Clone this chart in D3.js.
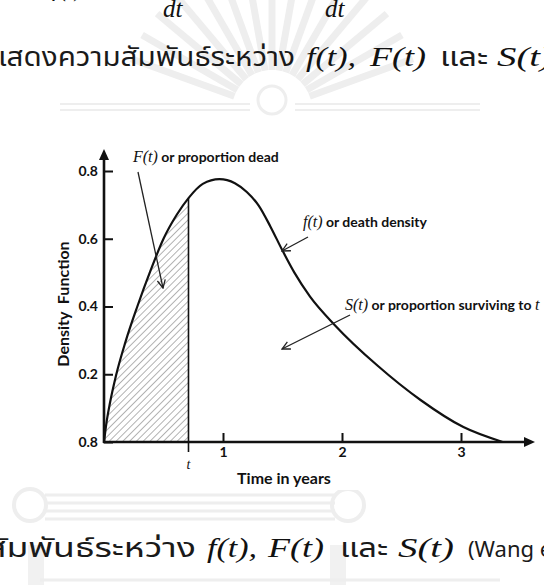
<!DOCTYPE html>
<html>
<head>
<meta charset="utf-8">
<script src="https://cdn.jsdelivr.net/npm/d3@7"></script>
<style>
  body { margin: 0; background: #fff; }
  svg { display: block; }
  .thai { font-family: "Noto Sans Thai", "Leelawadee UI", Tahoma, "Noto Sans", sans-serif; fill: #1a1a1a; }
  .math { font-family: "Liberation Serif", "DejaVu Serif", serif; font-style: italic; fill: #111; }
  .lbl { font-family: Lato, "Open Sans", sans-serif; font-weight: bold; fill: #111; }
</style>
</head>
<body>
<div id="chart"></div>
<script>
// ค่าที่อ่านจากรูป: เวลา (ปี) และความหนาแน่น f(t)
const tYears  = [0, 0.02, 0.05, 0.10, 0.18, 0.28, 0.39, 0.50, 0.61, 0.71, 0.83, 0.97, 1.10, 1.20, 1.30, 1.40, 1.50, 1.60, 1.73, 1.94, 2.30, 2.66, 3.02, 3.35];
const density = [0, 0.055, 0.115, 0.195, 0.295, 0.40, 0.505, 0.60, 0.67, 0.72, 0.762, 0.776, 0.764, 0.738, 0.698, 0.635, 0.565, 0.50, 0.43, 0.345, 0.225, 0.124, 0.044, 0];

// จุด t ที่แรเงา F(t)
const tMark = 0.71;

// ป้ายแกน
const yTicks = [0, 0.2, 0.4, 0.6, 0.8];
const yTickLabels = ['0.8', '0.2', '0.4', '0.6', '0.8'];
const xTicks = [1, 2, 3];

const W = 544, H = 585;
const svg = d3.select('#chart').append('svg').attr('width', W).attr('height', H);

// ลายน้ำจาง ๆ (ตราสัญลักษณ์)
const wm = svg.append('g').attr('fill', 'none').attr('stroke', '#eeeeee');
d3.range(-70, 71, 10).forEach(a => {
  const r = a * Math.PI / 180;
  wm.append('line')
    .attr('x1', 272 + Math.sin(r) * 40).attr('y1', 110 - Math.cos(r) * 40)
    .attr('x2', 272 + Math.sin(r) * 150).attr('y2', 110 - Math.cos(r) * 150)
    .attr('stroke-width', 7);
});
wm.append('circle').attr('cx', 272).attr('cy', 100).attr('r', 14).attr('stroke-width', 3);
[104, 110].forEach(yy => {
  wm.append('line').attr('x1', 60).attr('x2', 250).attr('y1', yy).attr('y2', yy).attr('stroke-width', 2);
  wm.append('line').attr('x1', 295).attr('x2', 480).attr('y1', yy).attr('y2', yy).attr('stroke-width', 2);
});
[495, 503, 511, 519].forEach(yy => {
  wm.append('line').attr('x1', 45).attr('x2', 335).attr('y1', yy).attr('y2', yy).attr('stroke-width', 3);
});
wm.append('circle').attr('cx', 30).attr('cy', 505).attr('r', 16).attr('stroke-width', 4);
wm.append('circle').attr('cx', 348).attr('cy', 505).attr('r', 16).attr('stroke-width', 4);
wm.append('rect').attr('x', 28).attr('y', 545).attr('width', 16).attr('height', 40).attr('fill', '#f1f1f1').attr('stroke', 'none');
wm.append('rect').attr('x', 330).attr('y', 545).attr('width', 16).attr('height', 40).attr('fill', '#f1f1f1').attr('stroke', 'none');
wm.append('line').attr('x1', 40).attr('x2', 500).attr('y1', 580).attr('y2', 580).attr('stroke-width', 3);

// ข้อความด้านบน (สมการที่ถูกตัด)
svg.append('text').attr('class', 'math').attr('x', 52).attr('y', -4).attr('font-size', 26).text('f(t) =');
svg.append('text').attr('class', 'math').attr('x', 196).attr('y', -4).attr('font-size', 26).text('= −');
svg.append('text').attr('class', 'math').attr('x', 163).attr('y', 17).attr('font-size', 25).text('dt');
svg.append('text').attr('class', 'math').attr('x', 325).attr('y', 17).attr('font-size', 25).text('dt');

// บรรทัดบรรยายภาพ
function captionLine(y, parts) {
  parts.forEach(p => {
    const t = svg.append('text').attr('class', p.m ? 'math' : 'thai')
      .attr('x', p.x).attr('y', y)
      .attr('font-size', p.fs || (p.m ? 28 : 27))
      .text(p.s);
    if (p.w) t.attr('textLength', p.w).attr('lengthAdjust', 'spacingAndGlyphs');
  });
}
captionLine(66, [
  {x: -10, s: 'แสดงความสัมพันธ์ระหว่าง', w: 305},
  {x: 306, s: 'f(t),', m: true, w: 50},
  {x: 370, s: 'F(t)', m: true, w: 56},
  {x: 440, s: 'และ', w: 48},
  {x: 497, s: 'S(t)', m: true, w: 56}
]);
captionLine(557, [
  {x: -14, s: 'สัมพันธ์ระหว่าง', w: 210},
  {x: 207, s: 'f(t),', m: true, w: 50},
  {x: 268, s: 'F(t)', m: true, w: 56},
  {x: 340, s: 'และ', w: 48},
  {x: 398, s: 'S(t)', m: true, w: 56},
  {x: 468, s: '(Wang et al., 2019)', fs: 22}
]);

// พื้นหลังขาวของกราฟ
svg.append('rect').attr('x', 58).attr('y', 140).attr('width', 486).attr('height', 350).attr('fill', '#fff');

// สเกล
const x = d3.scaleLinear().domain([0, 3]).range([104, 461]);
const y = d3.scaleLinear().domain([0, 0.8]).range([442, 171]);

const pts = tYears.map((t, i) => ({t: t, v: density[i]}));

// ลายเส้นทแยง
const defs = svg.append('defs');
defs.append('pattern')
  .attr('id', 'hatch').attr('patternUnits', 'userSpaceOnUse')
  .attr('width', 4.8).attr('height', 4.8)
  .attr('patternTransform', 'rotate(45)')
  .append('line').attr('x1', 0).attr('y1', 0).attr('x2', 0).attr('y2', 4.8)
  .attr('stroke', '#555').attr('stroke-width', 0.9);

defs.append('marker')
  .attr('id', 'tip').attr('viewBox', '0 0 10 10').attr('refX', 9).attr('refY', 5)
  .attr('markerWidth', 10).attr('markerHeight', 10).attr('markerUnits', 'userSpaceOnUse')
  .attr('orient', 'auto')
  .append('path').attr('d', 'M1,1 L9,5 L1,9').attr('fill', 'none').attr('stroke', '#222').attr('stroke-width', 1.3);

// พื้นที่ F(t)
const area = d3.area().x(d => x(d.t)).y0(y(0)).y1(d => y(d.v)).curve(d3.curveMonotoneX);
svg.append('path').datum(pts.filter(d => d.t <= tMark))
  .attr('d', area).attr('fill', 'url(#hatch)');

// เส้นตั้ง ณ t
svg.append('line')
  .attr('x1', x(tMark)).attr('x2', x(tMark))
  .attr('y1', y(density[tYears.indexOf(tMark)])).attr('y2', y(0) + 10)
  .attr('stroke', '#111').attr('stroke-width', 1.6);

// เส้นโค้ง f(t)
const line = d3.line().x(d => x(d.t)).y(d => y(d.v)).curve(d3.curveMonotoneX);
svg.append('path').datum(pts).attr('d', line)
  .attr('fill', 'none').attr('stroke', '#111').attr('stroke-width', 2.2);

// แกน Y
const yAxis = svg.append('g').attr('transform', `translate(${x(0)},0)`)
  .call(d3.axisLeft(y).tickValues(yTicks).tickSizeInner(-9).tickSizeOuter(0).tickPadding(6)
    .tickFormat((d, i) => yTickLabels[i]));
yAxis.select('.domain').remove();
yAxis.selectAll('.tick line').attr('stroke', '#111').attr('stroke-width', 2);
yAxis.selectAll('.tick text').attr('class', 'lbl').attr('font-size', 14).attr('fill', '#111');

// แกน X
const xAxis = svg.append('g').attr('transform', `translate(0,${y(0)})`)
  .call(d3.axisBottom(x).tickValues(xTicks).tickSizeInner(-9).tickSizeOuter(0).tickPadding(5)
    .tickFormat(d3.format('d')));
xAxis.select('.domain').remove();
xAxis.selectAll('.tick line').attr('stroke', '#111').attr('stroke-width', 2);
xAxis.selectAll('.tick text').attr('class', 'lbl').attr('font-size', 14).attr('fill', '#111');

// เส้นแกนพร้อมหัวลูกศร
svg.append('line').attr('x1', x(0)).attr('x2', x(0)).attr('y1', y(0) + 1).attr('y2', 158)
  .attr('stroke', '#111').attr('stroke-width', 2.6);
svg.append('path').attr('d', `M${x(0) - 5},160 L${x(0)},149 L${x(0) + 5},160 Z`).attr('fill', '#111');
svg.append('line').attr('x1', x(0) - 1).attr('x2', 526).attr('y1', y(0)).attr('y2', y(0))
  .attr('stroke', '#111').attr('stroke-width', 2.6);
svg.append('path').attr('d', `M524,${y(0) - 5} L535,${y(0)} L524,${y(0) + 5} Z`).attr('fill', '#111');

// ป้าย t
svg.append('text').attr('class', 'math').attr('x', x(tMark)).attr('y', 469)
  .attr('text-anchor', 'middle').attr('font-size', 14).text('t');

// ชื่อแกน
svg.append('text').attr('class', 'lbl').attr('x', 284).attr('y', 484)
  .attr('text-anchor', 'middle').attr('font-size', 16).text('Time in years');
svg.append('text').attr('class', 'lbl')
  .attr('transform', 'translate(69,304) rotate(-90)')
  .attr('text-anchor', 'middle').attr('font-size', 16)
  .attr('xml:space', 'preserve').text('Density  Function');

// คำอธิบายพร้อมลูกศร
function note(xp, yp, italic, rest) {
  const tx = svg.append('text').attr('x', xp).attr('y', yp);
  tx.append('tspan').attr('class', 'math').attr('font-size', 16).attr('fill', '#333').text(italic);
  tx.append('tspan').attr('class', 'lbl').attr('font-size', 14).text(' ' + rest);
  return tx;
}
note(133, 162, 'F(t)', 'or proportion dead');
note(303, 227, 'f(t)', 'or death density');
const sNote = note(345, 310, 'S(t)', 'or proportion surviving to ');
sNote.append('tspan').attr('class', 'math').attr('font-size', 16).text('t');

function arrow(x1, y1, x2, y2) {
  svg.append('line').attr('x1', x1).attr('y1', y1).attr('x2', x2).attr('y2', y2)
    .attr('stroke', '#222').attr('stroke-width', 1.3).attr('marker-end', 'url(#tip)');
}
arrow(138, 172, 163, 288);
arrow(308, 237, 282, 251);
arrow(350, 315, 282, 349);
</script>
</body>
</html>
